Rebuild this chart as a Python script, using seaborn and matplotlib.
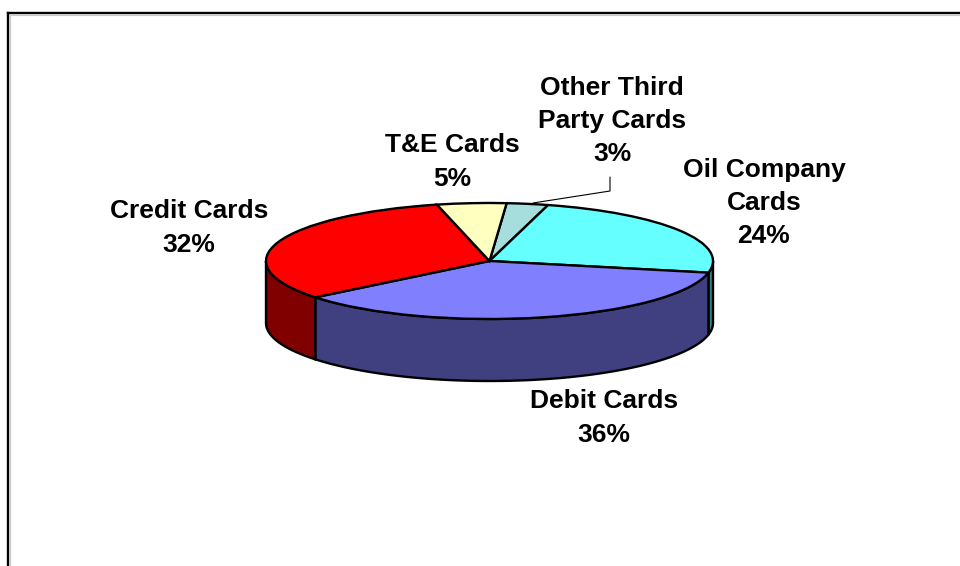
import numpy as np
import matplotlib
matplotlib.use("Agg")
import matplotlib.pyplot as plt
import seaborn as sns

categories = ["Other Third\nParty Cards", "Oil Company\nCards", "Debit Cards", "Credit Cards", "T&E Cards"]
shares = [3, 24, 36, 32, 5]
top_colors = ["#A6DEDE", "#66FFFF", "#8080FF", "#FF0000", "#FFFFC0"]
wall_colors = ["#537070", "#338080", "#404080", "#800000", "#808060"]
label_centers = [(612, 121), (764, 203), (604, 418), (189, 228), (452, 162)]

sns.set_theme(style="white")
plt.rcParams["font.family"] = ["Liberation Sans", "DejaVu Sans"]

W, H = 960, 566
fig = plt.figure(figsize=(W / 100, H / 100), dpi=100, facecolor="white")

# Page layer in pixel coordinates: frame and labels
page = fig.add_axes([0, 0, 1, 1], zorder=3)
page.set_xlim(0, W)
page.set_ylim(H, 0)
page.axis("off")
page.patch.set_alpha(0)

# The disc lives in its own squashed axes, so the pie becomes an ellipse
cx, cy, rx, ry, depth = 489.5, 261, 223.5, 58, 62
disc = fig.add_axes([(cx - rx) / W, (H - cy - ry) / H, 2 * rx / W, 2 * ry / H], zorder=2)
wedges, _ = disc.pie(
    shares, colors=top_colors, startangle=85.6, counterclock=False,
    wedgeprops=dict(edgecolor="black", linewidth=1.7, clip_on=False, zorder=3),
)
disc.set_aspect("auto")
disc.set_xlim(-1, 1)
disc.set_ylim(-1, 1)
disc.axis("off")

# Side wall of every slice whose arc faces the viewer
drop = depth / ry
for wedge, color in zip(wedges, wall_colors):
    lo, hi = wedge.theta1, wedge.theta2
    for offset in (0, 360, -360):
        a, b = max(lo + offset, 180), min(hi + offset, 360)
        if b > a:
            t = np.radians(np.linspace(a, b, 120))
            x, y = np.cos(t), np.sin(t)
            disc.fill(np.r_[x, x[::-1]], np.r_[y, y[::-1] - drop], facecolor=color,
                      edgecolor="black", linewidth=1.7, clip_on=False, zorder=1)

# Top and left frame rules, running off the page
page.plot([10, 10], [H, 15], color="#c8c8c8", lw=0.8)
page.plot([10, W], [15, 15], color="#c8c8c8", lw=0.8)
page.plot([8, 8], [H, 13], color="black", lw=1.7, solid_capstyle="projecting", clip_on=False)
page.plot([8, W], [13, 13], color="black", lw=1.7, solid_capstyle="projecting", clip_on=False)

# Leader from the small slice up to its label
page.plot([533, 610, 610], [203, 191, 177], color="black", lw=0.8)

for name, share, (x, y) in zip(categories, shares, label_centers):
    page.text(x, y, f"{name}\n{share}%", ha="center", va="center", ma="center",
              fontsize=19, fontweight="bold", color="black", linespacing=1.49)

fig.savefig("out.png", dpi=100)
